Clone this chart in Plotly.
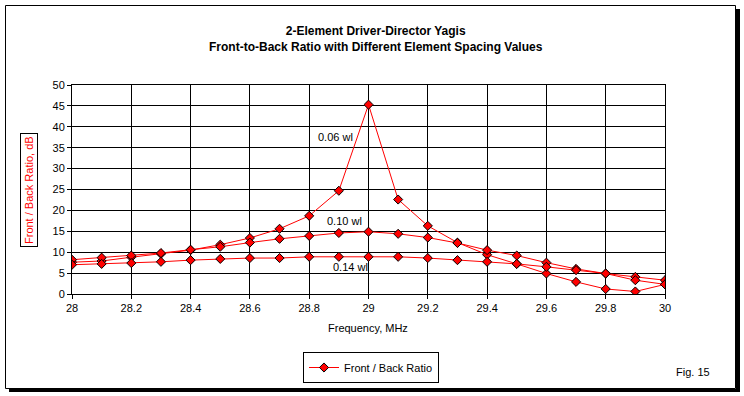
import plotly.graph_objects as go

freq = [28.0, 28.1, 28.2, 28.3, 28.4, 28.5, 28.6, 28.7, 28.8, 28.9, 29.0,
        29.1, 29.2, 29.3, 29.4, 29.5, 29.6, 29.7, 29.8, 29.9, 30.0]
fb_006 = [7.6, 7.9, 8.8, 9.6, 10.5, 11.8, 13.4, 15.6, 18.7, 24.7, 45.3,
          22.6, 16.3, 12.3, 9.4, 7.2, 4.9, 2.9, 1.2, 0.6, 2.3]
fb_010 = [8.2, 8.7, 9.2, 9.8, 10.6, 11.3, 12.3, 13.2, 13.9, 14.6, 14.9,
          14.4, 13.5, 12.2, 10.5, 9.2, 7.5, 6.0, 4.9, 4.1, 3.3]
fb_014 = [7.0, 7.2, 7.4, 7.7, 8.1, 8.4, 8.6, 8.6, 8.9, 8.9, 8.9,
          8.9, 8.6, 8.1, 7.7, 7.2, 6.5, 5.7, 4.9, 3.3, 2.3]
series_labels = ["0.06 wl", "0.10 wl", "0.14 wl"]
legend_name = "Front / Back Ratio"

W, H = 744, 396
L, R, T, B = 72, 665, 85, 294  # plot area pixel bounds


def px(x):
    return (x - L) / (R - L)


def py(y):
    return (B - y) / (B - T)


fig = go.Figure()
for i, ys in enumerate([fb_006, fb_010, fb_014]):
    fig.add_trace(go.Scatter(
        x=freq, y=ys, mode="lines+markers", name=legend_name,
        showlegend=(i == 0),
        line=dict(color="#ff0000", width=1),
        marker=dict(symbol="diamond", size=7, color="#ff0000",
                    line=dict(color="black", width=1)),
    ))

font = "Liberation Sans, Arial, sans-serif"
C = dict(xanchor="center", yanchor="middle", showarrow=False)
ann = [
    dict(x=28.887, y=37.6, xref="x", yref="y", text=series_labels[0],
         font=dict(size=11, color="black", family=font), **C),
    dict(x=28.92, y=17.5, xref="x", yref="y", text=series_labels[1],
         font=dict(size=11, color="black", family=font), **C),
    dict(x=28.94, y=6.4, xref="x", yref="y", text=series_labels[2],
         font=dict(size=11, color="black", family=font), **C),
    dict(x=px(376), y=py(39), xref="paper", yref="paper",
         text="<b>2-Element Driver-Director Yagis<br>Front-to-Back Ratio with Different Element Spacing Values</b>",
         font=dict(size=12, color="black", family=font), **C),
    dict(x=px(29), y=py(190), xref="paper", yref="paper", text="Front / Back Ratio, dB",
         textangle=-90, bordercolor="black", borderwidth=1, borderpad=2,
         font=dict(size=11, color="#ff0000", family=font), **C),
    dict(x=px(368), y=py(328), xref="paper", yref="paper", text="Frequency, MHz",
         font=dict(size=11, color="black", family=font), **C),
    dict(x=px(693), y=py(372), xref="paper", yref="paper", text="Fig. 15",
         font=dict(size=11, color="black", family=font), **C),
]

shapes = [
    dict(type="rect", xref="paper", yref="paper", x0=px(5.5), x1=px(735.5), y0=py(388.5), y1=py(5.5),
         line=dict(color="black", width=1), fillcolor="rgba(0,0,0,0)", layer="below"),
    dict(type="rect", xref="paper", yref="paper", x0=px(736), x1=px(740), y0=py(392), y1=py(9),
         line=dict(width=0), fillcolor="black"),
    dict(type="rect", xref="paper", yref="paper", x0=px(9), x1=px(740), y0=py(392), y1=py(389),
         line=dict(width=0), fillcolor="black"),
]

fig.update_layout(
    width=W, height=H,
    margin=dict(l=L, r=W - R, t=T, b=H - B, pad=0),
    paper_bgcolor="white", plot_bgcolor="white",
    font=dict(family=font, size=11, color="black"),
    showlegend=True,
    legend=dict(x=px(303), y=py(352), xanchor="left", yanchor="top",
                bordercolor="black", borderwidth=1, bgcolor="white",
                font=dict(size=11, family=font), itemwidth=30,
                tracegroupgap=0),
    annotations=ann,
    shapes=shapes,
    xaxis=dict(range=[28, 30], dtick=0.2, tick0=28, showgrid=True, gridcolor="black",
               gridwidth=1, showline=True, linecolor="black", linewidth=1, mirror=True,
               ticks="outside", ticklen=4, tickcolor="black", zeroline=False,
               tickfont=dict(size=11)),
    yaxis=dict(range=[0, 50], dtick=5, tick0=0, showgrid=True, gridcolor="black",
               gridwidth=1, showline=True, linecolor="black", linewidth=1, mirror=True,
               ticks="outside", ticklen=4, tickcolor="black", zeroline=False,
               tickfont=dict(size=11)),
)

fig.write_html("out.html", config={"displayModeBar": False},
               post_script="document.body.style.margin='0px';")
